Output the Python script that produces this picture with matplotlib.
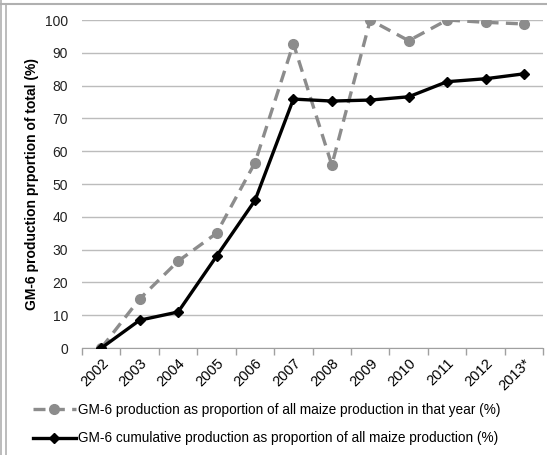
import matplotlib
matplotlib.use("Agg")
import matplotlib.pyplot as plt
from matplotlib.lines import Line2D
import numpy as np

plt.rcParams['font.family'] = ['Liberation Sans', 'DejaVu Sans']

years = ["2002", "2003", "2004", "2005", "2006", "2007", "2008", "2009",
         "2010", "2011", "2012", "2013*"]
annual = [0, 15, 26.5, 35, 56.5, 92.8, 55.8, 100, 93.7, 100, 99.3, 98.8]
cumulative = [0, 8.5, 11, 28, 45, 75.9, 75.3, 75.6, 76.6, 81.2, 82.1, 83.6]
annual_label = "GM-6 production as proportion of all maize production in that year (%)"
cumul_label = "GM-6 cumulative production as proportion of all maize production (%)"
ylabel = "GM-6 production prportion of total (%)"

fig = plt.figure(figsize=(5.47, 4.55), dpi=100)
ax = fig.add_axes([0.150, 0.235, 0.843, 0.721])

x = np.arange(len(years))
ax.plot(x, annual, color="#8c8c8c", lw=2.4, ls=(0, (3.6, 2.2)),
        marker="o", ms=7, mfc="#8c8c8c", mec="#8c8c8c", label=annual_label, zorder=3)
ax.plot(x, cumulative, color="black", lw=2.4, marker="D", ms=5.5,
        mfc="black", mec="black", label=cumul_label, zorder=4)

ax.set_xlim(-0.5, len(years) - 0.5)
ax.set_ylim(0, 100)
ax.set_yticks(np.arange(0, 101, 10))
ax.tick_params(axis='y', length=0, labelsize=10, pad=10, labelcolor="#222222")
ax.set_xticks(x)
ax.set_xticklabels(years, rotation=45, ha='right', rotation_mode='anchor', fontsize=10.5)
ax.tick_params(axis='x', which='major', length=0, pad=6)
ax.set_xticks(np.arange(-0.5, len(years), 1), minor=True)
ax.tick_params(axis='x', which='minor', length=5, color="#a0a0a0", width=1)

ax.grid(axis='y', color="#bcbcbc", lw=1)
ax.set_axisbelow(True)
for s in ['top', 'right', 'left']:
    ax.spines[s].set_visible(False)
ax.spines['bottom'].set_color("#a0a0a0")

ax.set_ylabel(ylabel, fontsize=10, fontweight='bold', labelpad=4)

leg = fig.legend(loc='lower center', bbox_to_anchor=(0.487, 0.0), ncol=1,
                 frameon=False, fontsize=9.8, handlelength=3.2, handletextpad=0.1,
                 labelspacing=1.05, borderaxespad=0.3)

# outer frame lines
fig.add_artist(Line2D([0.0, 1.0], [1 - 4/455, 1 - 4/455], transform=fig.transFigure, color="#b0b0b0", lw=1.5))
fig.add_artist(Line2D([1/547, 1/547], [0, 1], transform=fig.transFigure, color="#b0b0b0", lw=1.2))
fig.add_artist(Line2D([6/547, 6/547], [0, 1 - 4/455], transform=fig.transFigure, color="#b0b0b0", lw=1.2))

fig.savefig("out.png", dpi=100)
